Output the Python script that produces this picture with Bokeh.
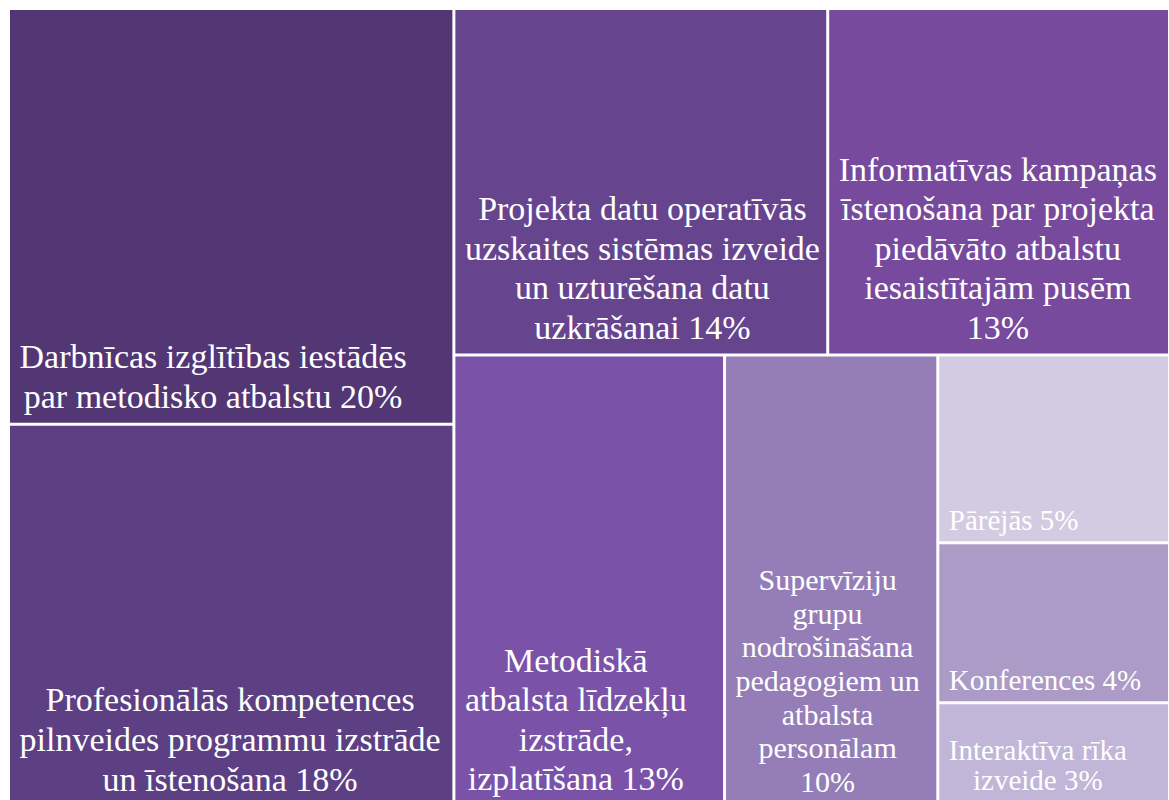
from bokeh.plotting import figure
from bokeh.models import Range1d, ColumnDataSource
from bokeh.core.properties import value
from bokeh.embed import file_html
from bokeh.resources import INLINE

# ---- data ----
values = [20.0, 18.4, 14.0, 12.8, 13.2, 10.4, 4.7, 4.0, 2.6]
label_lines = [
    ["Darbnīcas izglītības iestādēs", "par metodisko atbalstu 20%"],
    ["Profesionālās kompetences", "pilnveides programmu izstrāde", "un īstenošana 18%"],
    ["Projekta datu operatīvās", "uzskaites sistēmas izveide", "un uzturēšana datu", "uzkrāšanai 14%"],
    ["Informatīvas kampaņas", "īstenošana par projekta", "piedāvāto atbalstu", "iesaistītajām pusēm", "13%"],
    ["Metodiskā", "atbalsta līdzekļu", "izstrāde,", "izplatīšana 13%"],
    ["Supervīziju", "grupu", "nodrošināšana", "pedagogiem un", "atbalsta", "personālam", "10%"],
    ["Pārējās 5%"],
    ["Konferences 4%"],
    ["Interaktīva rīka", "izveide 3%"],
]
colors = ["#533674", "#5d3f84", "#66458e", "#774a9e", "#7a52a8",
          "#957eb8", "#d3cbe1", "#ac9bc6", "#c2b6d8"]

# treemap structure (split direction, children = indices into values)
tree = ("h", [("v", [0, 1]),
              ("v", [("h", [2, 3]),
                     ("h", [4, 5, ("v", [6, 7, 8])])])])

# ---- styles ----
font_px = [34, 34, 34, 34, 34, 30, 29, 29, 29]
line_px = [40, 40, 39.5, 39.5, 39.5, 33.7, 33, 33, 30]
pad_b = [28, 27, 28, 28, 28, 25, 23, 23, 27]
W, H = 1161, 798          # treemap size (bottom slightly cropped)
FIG_W, FIG_H = 1169, 800
OFF = 8                   # white margin left / top inside the figure
GAP = 3.0
PAD_L = 9.5

# Times / Liberation Serif advance widths (1/1000 em)
CW = dict(a=444, b=500, c=444, d=500, e=444, f=333, g=500, h=500, i=278, j=278,
          k=500, l=278, m=778, n=500, o=500, p=500, q=500, r=333, s=389, t=278,
          u=500, v=500, w=722, x=500, y=500, z=444)
CW.update({" ": 250, ",": 250, "%": 833, "D": 722, "I": 333, "K": 722, "M": 889,
           "P": 556, "S": 556})
for dch in "0123456789":
    CW[dch] = 500
ACC = {"ā": "a", "ē": "e", "ī": "i", "ū": "u", "š": "s", "ņ": "n", "ļ": "l",
       "ž": "z", "ķ": "k", "ģ": "g", "č": "c"}


def text_w(s, px):
    return sum(CW.get(ACC.get(ch, ch), 500) for ch in s) * px / 1000.0


def total(node):
    if isinstance(node, int):
        return values[node]
    return sum(total(c) for c in node[1])


cells = {}


def layout(node, x0, y0, x1, y1):
    # y0 = top (larger), y1 = bottom (smaller) in data coords
    if isinstance(node, int):
        cells[node] = (x0, y0, x1, y1)
        return
    d, kids = node
    s = total(node)
    if d == "h":
        cx = x0
        for k in kids:
            w = (x1 - x0) * total(k) / s
            layout(k, cx, y0, cx + w, y1)
            cx += w
    else:
        cy = y0
        for k in kids:
            h = (y0 - y1) * total(k) / s
            layout(k, x0, cy, x1, cy - h)
            cy -= h


layout(tree, 0, H, W, 0)

n = len(values)
g = GAP / 2
rect_src = ColumnDataSource(dict(
    left=[cells[i][0] + g for i in range(n)],
    right=[cells[i][2] - g for i in range(n)],
    top=[cells[i][1] - g for i in range(n)],
    bottom=[cells[i][3] + g for i in range(n)],
    color=colors,
))

tx, ty, tt, ts = [], [], [], []
for i in range(n):
    x0, y0, x1, y1 = cells[i]
    lines = label_lines[i]
    bw = max(text_w(s, font_px[i]) for s in lines)
    cx = x0 + g + PAD_L + bw / 2
    nl = len(lines)
    for j, s in enumerate(lines):
        tx.append(cx)
        ty.append(y1 + pad_b[i] + (nl - 1 - j) * line_px[i])
        tt.append(s)
        ts.append(f"{font_px[i]}px")
text_src = ColumnDataSource(dict(x=tx, y=ty, text=tt, size=ts))

p = figure(width=FIG_W, height=FIG_H, output_backend="svg", toolbar_location=None,
           x_range=Range1d(-OFF, FIG_W - OFF),
           y_range=Range1d(H + OFF - FIG_H, H + OFF),
           min_border=0, x_axis_location=None, y_axis_location=None)
p.grid.visible = False
p.outline_line_color = None
p.background_fill_color = "white"
p.border_fill_color = "white"

p.quad(left="left", right="right", top="top", bottom="bottom", source=rect_src,
       fill_color="color", line_color=None)
p.text(x="x", y="y", text="text", source=text_src, text_color="white",
       text_font=value("Liberation Serif"), text_font_size="size",
       text_align="center", text_baseline="alphabetic")

open("out.html", "w").write(file_html(p, INLINE))
